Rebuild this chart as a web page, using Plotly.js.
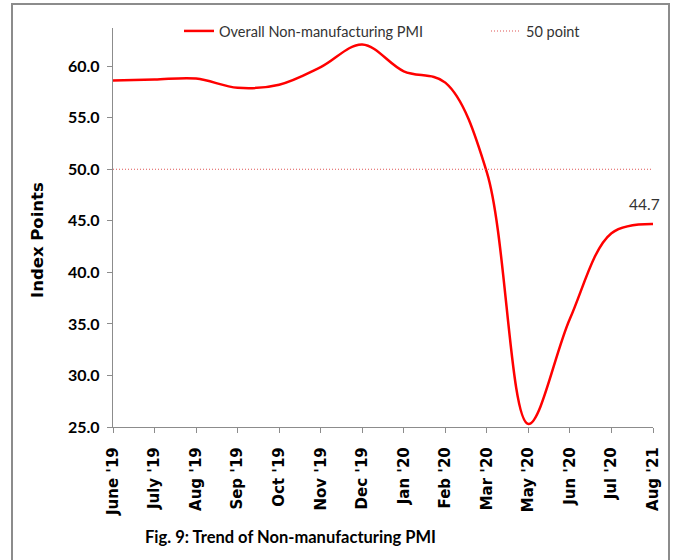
<!DOCTYPE html>
<html>
<head>
<meta charset="utf-8">
<script src="https://cdn.plot.ly/plotly-3.0.1.min.js"></script>
<style>
  html, body { margin: 0; padding: 0; background: #fff; }
  #wrap { position: relative; width: 678px; height: 560px; overflow: hidden; }
  #frame { position: absolute; left: 11px; top: 3px; width: 659px; height: 600px; border: 2px solid #8c8c8c; box-sizing: border-box; }
  #chart { position: absolute; left: 0; top: 0; width: 678px; height: 560px; }
</style>
</head>
<body>
<div id="wrap">
  <div id="frame"></div>
  <div id="chart"></div>
</div>
<script>
const categories = ["June '19", "July '19", "Aug '19", "Sep '19", "Oct '19", "Nov '19", "Dec '19",
                    "Jan '20", "Feb '20", "Mar '20", "May '20", "Jun '20", "Jul '20", "Aug '21"];
const pmiValues = [58.6, 58.7, 58.8, 57.9, 58.2, 59.9, 62.1, 59.5, 58.4, 49.7, 25.3, 35.5, 43.8, 44.7];
const thresholdValue = 50;
const thresholdValues = categories.map(() => thresholdValue);
const yTickValues = [25, 30, 35, 40, 45, 50, 55, 60];
const yTickLabels = ["25.0", "30.0", "35.0", "40.0", "45.0", "50.0", "55.0", "60.0"];
const seriesName = "Overall Non-manufacturing PMI";
const thresholdName = "50 point";
const yTitle = "Index Points";
const caption = "Fig. 9: Trend of Non-manufacturing PMI";
const lastLabel = pmiValues[pmiValues.length - 1].toFixed(1);

const font = "Lato, 'Open Sans', sans-serif";
const wideFont = "'DejaVu Sans', Verdana, sans-serif";

const W = 678, H = 560, ML = 113, MR = 25, MT = 8, MB = 133;
const plotW = W - ML - MR, paperH = H - MT - MB;
const axisBottomPx = H - MB;      // 427
const axisTopPx = 28;
const yDomainTop = (axisBottomPx - axisTopPx) / paperH;
const legendY = (axisBottomPx - 31) / paperH;

const traces = [
  {
    x: categories, y: pmiValues, name: seriesName, type: "scatter", mode: "lines",
    line: { color: "#ff0000", width: 2.5, shape: "spline", smoothing: 1 },
    cliponaxis: false, legend: "legend"
  },
  {
    x: categories, y: thresholdValues, name: thresholdName, type: "scatter", mode: "lines",
    line: { color: "#e05555", width: 1.1, dash: "1px,2px" }, legend: "legend2"
  }
];

const legendFont = { family: font, size: 14.5, color: "#333" };

const layout = {
  width: W, height: H,
  paper_bgcolor: "rgba(0,0,0,0)", plot_bgcolor: "rgba(0,0,0,0)",
  margin: { l: ML, r: MR, t: MT, b: MB },
  showlegend: true,
  legend: {
    orientation: "h", x: (179 - ML) / plotW, y: legendY, xanchor: "left", yanchor: "middle",
    font: legendFont, bgcolor: "rgba(0,0,0,0)"
  },
  legend2: {
    orientation: "h", x: (486 - ML) / plotW, y: legendY, xanchor: "left", yanchor: "middle",
    font: legendFont, bgcolor: "rgba(0,0,0,0)"
  },
  xaxis: {
    type: "category", range: [0, categories.length - 1],
    showline: true, linecolor: "#8c8c8c", linewidth: 1.2,
    ticks: "outside", ticklen: 5, tickcolor: "#8c8c8c",
    tickangle: -90, showgrid: false, zeroline: false, ticklabelstandoff: 8,
    tickfont: { family: wideFont, size: 15, color: "#000", weight: "bold" }
  },
  yaxis: {
    domain: [0, yDomainTop],
    range: [25, 63.7], tickvals: yTickValues, ticktext: yTickLabels,
    showline: true, linecolor: "#8c8c8c", linewidth: 1.2,
    ticks: "outside", ticklen: 5, tickcolor: "#8c8c8c",
    showgrid: false, zeroline: false, ticklabelstandoff: 4,
    tickfont: { family: font, size: 16, color: "#000", weight: "bold" }
  },
  annotations: [
    {
      x: categories[categories.length - 1], y: pmiValues[pmiValues.length - 1],
      xref: "x", yref: "y", text: lastLabel, showarrow: false,
      xanchor: "center", yanchor: "bottom", xshift: -9, yshift: 9,
      font: { family: font, size: 15.5, color: "#333" }
    },
    {
      x: (143 - ML) / plotW, y: -(537 - axisBottomPx) / paperH, xref: "paper", yref: "paper",
      xanchor: "left", yanchor: "middle", text: caption, showarrow: false,
      font: { family: font, size: 16.5, color: "#000", weight: "bold" }
    },
    {
      x: (38 - ML) / plotW, y: (axisBottomPx - 240) / paperH, xref: "paper", yref: "paper",
      xanchor: "center", yanchor: "middle", textangle: -90, text: yTitle, showarrow: false,
      font: { family: wideFont, size: 16.5, color: "#000", weight: "bold" }
    }
  ]
};

Plotly.newPlot("chart", traces, layout, { displayModeBar: false, staticPlot: true });
</script>
</body>
</html>
